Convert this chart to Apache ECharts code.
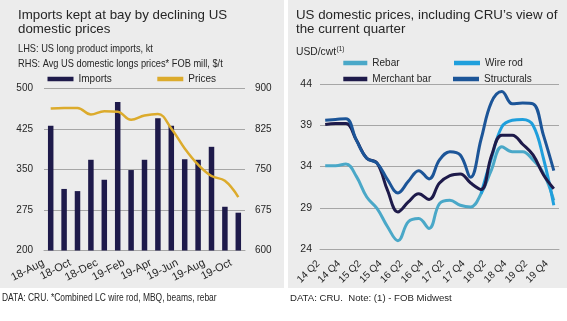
<!DOCTYPE html>
<html>
<head>
<meta charset="utf-8">
<script src="https://cdn.jsdelivr.net/npm/echarts@6/dist/echarts.min.js"></script>
<style>
  html, body { margin: 0; padding: 0; background: #ffffff; }
  #chart { width: 567px; height: 321px; }
</style>
</head>
<body>
<div id="chart"></div>
<script>
// ---- Left panel: US long product imports (kt) vs average domestic long prices ($/t)
const monthLabels = ['18-Aug', '18-Sep', '18-Oct', '18-Nov', '18-Dec', '19-Jan', '19-Feb', '19-Mar',
                     '19-Apr', '19-May', '19-Jun', '19-Jul', '19-Aug', '19-Sep', '19-Oct'];
const imports = [431, 314, 310, 368, 331, 475, 349, 368, 445, 431, 369, 368, 392, 281, 270];
const prices  = [863, 864, 864, 852, 858, 857, 842, 850, 853, 826, 789, 759, 738, 729, 699];

// ---- Right panel: quarterly US domestic prices, USD/cwt
const quarterLabels = ['14 Q2', '14 Q3', '14 Q4', '15 Q1', '15 Q2', '15 Q3', '15 Q4', '16 Q1',
                       '16 Q2', '16 Q3', '16 Q4', '17 Q1', '17 Q2', '17 Q3', '17 Q4', '18 Q1',
                       '18 Q2', '18 Q3', '18 Q4', '19 Q1', '19 Q2', '19 Q3', '19 Q4'];
const rebar       = [34.1, 34.1, 34.3, 32.8, 30.3, 28.9, 26.7, 25.0, 27.3, 27.7, 26.5, 29.5,
                     29.9, 29.3, 29.1, 30.7, 33.6, 36.4, 35.8, 35.8, 34.8, 33.2, 29.9];
const wireRod     = [null, null, null, null, null, null, null, null, null, null, null, null,
                     null, null, null, 30.7, 35.0, 38.8, 39.6, 39.7, 39.0, 35.0, 29.3];
const merchantBar = [39.1, 39.2, 39.2, 37.2, 35.0, 34.4, 31.1, 28.5, 29.7, 30.7, 30.0, 32.0,
                     32.9, 33.1, 32.0, 31.2, 35.3, 37.8, 37.8, 36.7, 35.4, 33.0, 31.3];
const structurals = [39.6, 39.7, 39.8, 37.2, 35.0, 34.4, 32.4, 30.8, 32.2, 33.5, 32.5, 34.8,
                     35.8, 35.4, 32.7, 37.3, 41.8, 43.1, 41.6, 41.7, 41.6, 37.8, 33.5];
// evenly spaced minor tick slots along the quarterly axis
const tickSlots = new Array(34).fill('');

const FONT = "'Liberation Sans', Arial, sans-serif";
const TEXT = '#262626';
const RULE = '#a6a6a6';
const PANEL = '#ececec';
const NAVY = '#1e1a4a';
const GOLD = '#dcab2c';
const NARROW_SCALE = 0.82; // condensed lettering for notes and sub-headings

const chart = echarts.init(document.getElementById('chart'), null, { renderer: 'canvas' });

function legendItem(name, left, top, w) {
  return {
    data: [name], left: left, top: top, padding: 0, itemGap: 0,
    itemWidth: w, itemHeight: 4.5, icon: 'rect', selectedMode: false,
    textStyle: { fontFamily: FONT, fontSize: 10, color: TEXT }
  };
}

function label(text, x, y, size, narrow) {
  return { type: 'text', x: x, y: y, silent: true, scaleX: narrow ? NARROW_SCALE : 1,
           style: { text: text, font: size + 'px ' + FONT, fill: TEXT,
                    verticalAlign: 'middle', textVerticalAlign: 'middle' } };
}

const option = {
  animation: false,
  backgroundColor: '#ffffff',
  graphic: [
    { type: 'rect', shape: { x: 0, y: 0, width: 284, height: 288 }, style: { fill: PANEL }, z: -10, silent: true },
    { type: 'rect', shape: { x: 288, y: 0, width: 279, height: 288 }, style: { fill: PANEL }, z: -10, silent: true },
    label('Imports kept at bay by declining US', 18, 15.5, 13.3),
    label('domestic prices', 18, 29, 13.3),
    label('LHS: US long product imports, kt', 18, 48.5, 11.3, true),
    label('RHS: Avg US domestic longs prices* FOB mill, $/t', 18, 63.5, 11.3, true),
    label('DATA: CRU. *Combined LC wire rod, MBQ, beams, rebar', 2, 298.5, 10.3, true),
    label('US domestic prices, including CRU\u2019s view of', 296, 15.5, 13.3),
    label('the current quarter', 296, 29, 13.3),
    label('USD/cwt', 296, 52, 10.3),
    label('(1)', 336.5, 49.5, 6.5),
    label('DATA: CRU.  Note: (1) - FOB Midwest', 290, 298.5, 9.6)
  ],
  legend: [
    legendItem('Imports', 47.5, 74, 26),
    legendItem('Prices', 157.3, 74, 26),
    legendItem('Rebar', 343.3, 58, 24),
    legendItem('Wire rod', 454, 58, 26),
    legendItem('Merchant bar', 343.3, 74, 24),
    legendItem('Structurals', 453, 74, 26)
  ],
  grid: [
    { left: 44, top: 88.5, width: 201, height: 162 },
    { left: 320, top: 84, width: 239, height: 165 }
  ],
  xAxis: [
    {
      gridIndex: 0, type: 'category', data: monthLabels,
      axisLine: { lineStyle: { color: RULE } },
      axisTick: { interval: 3, length: 4, lineStyle: { color: RULE } },
      axisLabel: { interval: 1, rotate: 27, margin: 8, padding: [0, 8, 0, 0],
                   showMinLabel: true, showMaxLabel: true, hideOverlap: false,
                   fontFamily: FONT, fontSize: 11, color: TEXT }
    },
    {
      gridIndex: 1, type: 'category', data: quarterLabels,
      axisLine: { lineStyle: { color: RULE } },
      axisTick: { show: false },
      axisLabel: { interval: 1, rotate: 45, margin: 6, padding: [0, 10, 0, 0],
                   showMinLabel: true, showMaxLabel: true, hideOverlap: false,
                   fontFamily: FONT, fontSize: 10, color: TEXT }
    },
    {
      gridIndex: 1, type: 'category', data: tickSlots, position: 'bottom',
      axisLine: { show: false },
      axisTick: { length: 4, lineStyle: { color: RULE } },
      axisLabel: { show: false }
    }
  ],
  yAxis: [
    {
      gridIndex: 0, type: 'value', min: 200, max: 500, interval: 75,
      axisLine: { show: false }, axisTick: { show: false },
      splitLine: { lineStyle: { color: RULE } },
      axisLabel: { margin: 11, fontFamily: FONT, fontSize: 10, color: TEXT }
    },
    {
      gridIndex: 0, type: 'value', min: 600, max: 900, interval: 75, position: 'right',
      axisLine: { show: false }, axisTick: { show: false }, splitLine: { show: false },
      axisLabel: { margin: 10, fontFamily: FONT, fontSize: 10, color: TEXT }
    },
    {
      gridIndex: 1, type: 'value', min: 24, max: 44, interval: 5,
      axisLine: { show: false }, axisTick: { show: false },
      splitLine: { lineStyle: { color: RULE } },
      axisLabel: { margin: 8, fontFamily: FONT, fontSize: 10.5, color: TEXT }
    }
  ],
  series: [
    { name: 'Imports', type: 'bar', xAxisIndex: 0, yAxisIndex: 0, data: imports,
      barWidth: 5.5, itemStyle: { color: NAVY } },
    { name: 'Prices', type: 'line', xAxisIndex: 0, yAxisIndex: 1, data: prices,
      smooth: 0.4, symbol: 'none', itemStyle: { color: GOLD }, lineStyle: { color: GOLD, width: 2.5 } },
    { name: 'Rebar', type: 'line', xAxisIndex: 1, yAxisIndex: 2, data: rebar,
      smooth: 0.4, symbol: 'none', itemStyle: { color: '#4aa8c8' }, lineStyle: { color: '#4aa8c8', width: 3 } },
    { name: 'Wire rod', type: 'line', xAxisIndex: 1, yAxisIndex: 2, data: wireRod,
      smooth: 0.4, symbol: 'none', itemStyle: { color: '#1f9fdc' }, lineStyle: { color: '#1f9fdc', width: 3 } },
    { name: 'Merchant bar', type: 'line', xAxisIndex: 1, yAxisIndex: 2, data: merchantBar,
      smooth: 0.4, symbol: 'none', itemStyle: { color: NAVY }, lineStyle: { color: NAVY, width: 3 } },
    { name: 'Structurals', type: 'line', xAxisIndex: 1, yAxisIndex: 2, data: structurals,
      smooth: 0.4, symbol: 'none', itemStyle: { color: '#1c5598' }, lineStyle: { color: '#1c5598', width: 3 } }
  ]
};

chart.setOption(option);
</script>
</body>
</html>
